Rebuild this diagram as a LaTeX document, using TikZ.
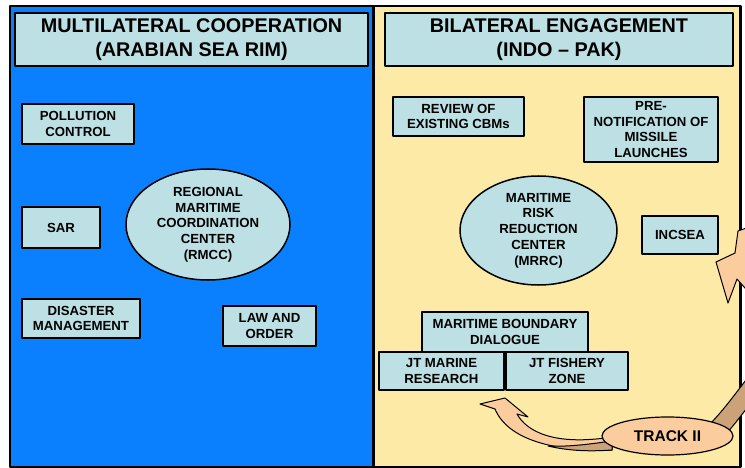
\documentclass[tikz,border=0pt]{standalone}
\usepackage{fontspec}
\setmainfont{Liberation Sans}
\usetikzlibrary{arrows.meta,calc,positioning,shapes.geometric}
\definecolor{rimblue}{RGB}{10,128,255}
\definecolor{pactyellow}{RGB}{252,234,166}
\definecolor{boxcyan}{RGB}{188,224,228}
\definecolor{trackpeach}{RGB}{250,204,158}
\definecolor{tracktan}{RGB}{204,162,120}

\begin{document}
\begin{tikzpicture}[x=1pt,y=-1pt,line cap=round,line join=round,
 panel/.style={draw=black,line width=2.5pt},
 headbox/.style={draw=black,line width=2.5pt,fill=boxcyan,align=center,inner sep=0pt,
  font=\fontsize{19.8}{23.5}\selectfont\bfseries},
 itembox/.style={draw=black,line width=2.2pt,fill=boxcyan,align=center,inner sep=0pt,
  font=\fontsize{13.2}{15.7}\selectfont\bfseries},
 hub/.style={ellipse,draw=black,line width=1.5pt,fill=boxcyan,align=center,inner sep=0pt,
  font=\fontsize{13.2}{15.7}\selectfont\bfseries},
 trackarrow/.style={fill=trackpeach,draw=black,line width=1pt},
 trackband/.style={fill=tracktan,draw=black,line width=1pt}]
\useasboundingbox (0,0) rectangle (745,468);
\clip (0,0) rectangle (745,468);
% dwa panele: wielostronny (lewy) i dwustronny (prawy)
\filldraw[panel,fill=rimblue] (10,6) rectangle (373.5,467);
\filldraw[panel,fill=pactyellow] (373.5,6) rectangle (740.5,467);
\node[headbox,minimum width=353pt,minimum height=53pt] (lefthead) at (191.5,39.5)
 {MULTILATERAL COOPERATION\\(ARABIAN SEA RIM)};
\node[headbox,minimum width=348pt,minimum height=53pt] (righthead) at (559,39.5)
 {BILATERAL ENGAGEMENT\\(INDO -- PAK)};
% lewy panel
\node[itembox,minimum width=112pt,minimum height=40pt] (pollution) at (78,124) {POLLUTION\\CONTROL};
\node[itembox,minimum width=78pt,minimum height=41pt] (sar) at (61,227.5) {SAR};
\node[itembox,minimum width=118pt,minimum height=39pt] (disaster) at (81,318.5) {DISASTER\\MANAGEMENT};
\node[itembox,minimum width=93pt,minimum height=40pt] (laworder) at (269.5,326) {LAW AND\\ORDER};
\node[hub,minimum width=164pt,minimum height=111pt] (rmcc) at (208,224.5)
 {REGIONAL\\MARITIME\\COORDINATION\\CENTER\\(RMCC)};
% prawy panel
\node[itembox,minimum width=131pt,minimum height=39pt] (review) at (458.5,116.5) {REVIEW OF\\EXISTING CBMs};
\node[itembox,minimum width=134pt,minimum height=65pt] (prenote) at (651,129.5)
 {PRE-\\NOTIFICATION OF\\MISSILE\\LAUNCHES};
\node[hub,minimum width=157pt,minimum height=109pt] (mrrc) at (538.5,230.5)
 {MARITIME\\RISK\\REDUCTION\\CENTER\\(MRRC)};
\node[itembox,minimum width=76pt,minimum height=38pt] (incsea) at (680,235) {INCSEA};
\node[itembox,minimum width=166pt,minimum height=40pt] (boundary) at (505,332) {MARITIME BOUNDARY\\DIALOGUE};
\node[itembox,minimum width=125pt,minimum height=38pt] (marine) at (441.5,371) {JT MARINE\\RESEARCH};
\node[itembox,minimum width=122pt,minimum height=38pt] (fishery) at (567,371) {JT FISHERY\\ZONE};
% strzałki Track II (wychodzą poza kadr z prawej)
\filldraw[trackband] (708,426) .. controls (722,412) and (733,397) .. (752,372)
 -- (752,402) .. controls (742,414) and (735,424) .. (726,434) -- cycle;
\filldraw[trackarrow] (738,231) -- (735,253) -- (716,262) -- (728,303) -- (737,279)
 -- (752,296) -- (752,226) -- cycle;
\filldraw[trackarrow] (480,404) -- (505,398) -- (528,417) -- (517,414)
 .. controls (527,432) and (555,446) .. (612,437) -- (612,450)
 .. controls (555,452) and (508,440) .. (495,409) -- cycle;
\filldraw[trackband] (548,446) .. controls (570,447) and (590,444) .. (612,441)
 -- (612,450) .. controls (585,452) and (565,450) .. (548,446) -- cycle;
\node[hub,fill=trackpeach,line width=1.2pt,font=\fontsize{15.5}{18}\selectfont\bfseries,
 minimum width=131pt,minimum height=38pt] (track) at (667.5,436) {TRACK II};
\end{tikzpicture}
\end{document}
